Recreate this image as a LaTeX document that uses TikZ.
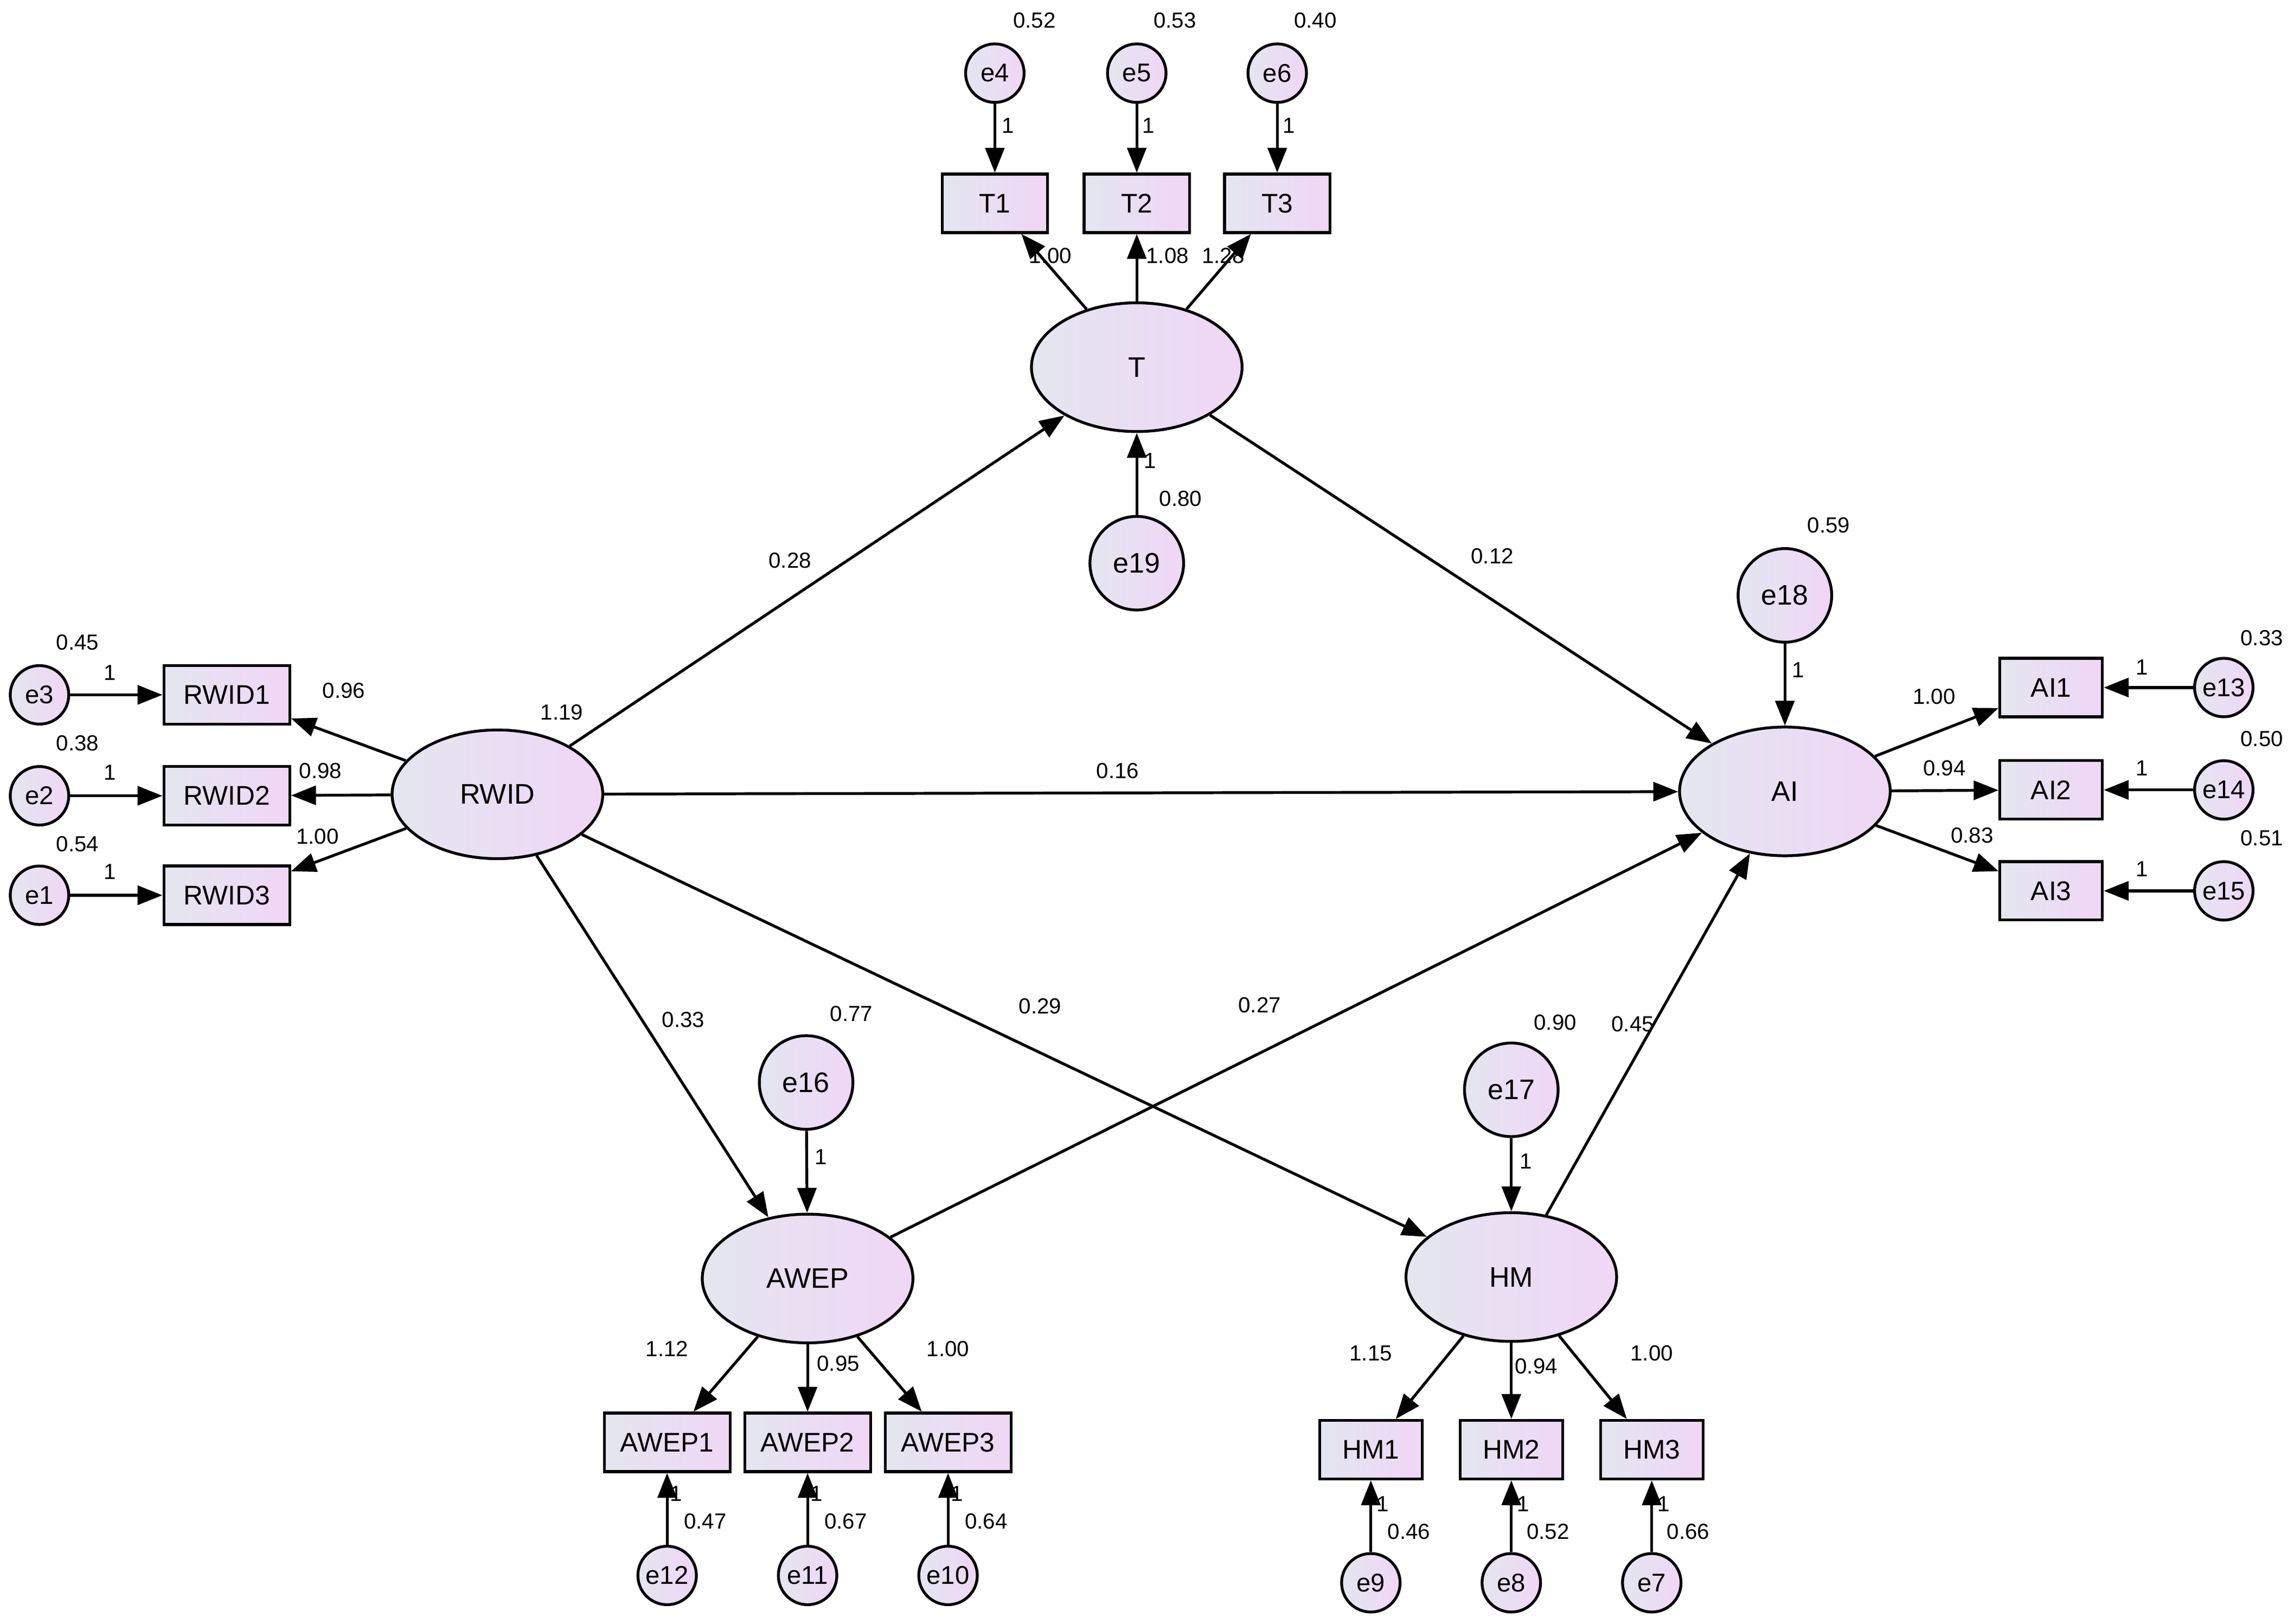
\documentclass[tikz,border=0pt]{standalone}
\usepackage{fontspec}
\setmainfont{Liberation Sans}
\usetikzlibrary{shapes.geometric,arrows.meta}
\definecolor{cA}{RGB}{228,230,240}
\definecolor{cB}{RGB}{240,214,246}
\begin{document}
\begin{tikzpicture}[x=0.02cm,y=-0.02cm,
 fillg/.style={left color=cA,right color=cB,draw=black,line width=1.1pt},
 lat/.style={ellipse,fillg,minimum width=2.88cm,minimum height=1.76cm,font=\fontsize{11}{13}\selectfont},
 se/.style={circle,fillg,minimum size=0.8cm,inner sep=0pt,font=\fontsize{10}{12}\selectfont},
 be/.style={circle,fillg,minimum size=1.28cm,inner sep=0pt,font=\fontsize{11}{13}\selectfont},
 obs/.style={rectangle,fillg,minimum width=1.44cm,minimum height=0.8cm,inner sep=1pt,font=\fontsize{10.5}{12}\selectfont},
 lab/.style={font=\fontsize{8.5}{10}\selectfont,inner sep=1pt},
 ar/.style={-{Triangle[length=0.34cm,width=0.26cm]},line width=1.1pt}]
\useasboundingbox (0,0) rectangle (1568,1110);
% latents
\node[lat] (T) at (777,251) {T};
\node[lat] (RWID) at (340,543) {RWID};
\node[lat] (AI) at (1220,541) {AI};
\node[lat] (AWEP) at (552,874) {AWEP};
\node[lat] (HM) at (1033,873) {HM};
% big errors
\node[be] (e19) at (777,385) {e19};
\node[be] (e18) at (1220,407) {e18};
\node[be] (e16) at (551,740) {e16};
\node[be] (e17) at (1033,745) {e17};
% observed
\node[obs] (T1) at (680,139) {T1};
\node[obs] (T2) at (777,139) {T2};
\node[obs] (T3) at (873,139) {T3};
\node[obs,minimum width=1.72cm] (RWID1) at (155,475) {RWID1};
\node[obs,minimum width=1.72cm] (RWID2) at (155,544) {RWID2};
\node[obs,minimum width=1.72cm] (RWID3) at (155,612) {RWID3};
\node[obs,minimum width=1.4cm] (AI1) at (1402,470) {AI1};
\node[obs,minimum width=1.4cm] (AI2) at (1402,540) {AI2};
\node[obs,minimum width=1.4cm] (AI3) at (1402,609) {AI3};
\node[obs,minimum width=1.72cm] (AWEP1) at (456,986) {AWEP1};
\node[obs,minimum width=1.72cm] (AWEP2) at (552,986) {AWEP2};
\node[obs,minimum width=1.72cm] (AWEP3) at (648,986) {AWEP3};
\node[obs,minimum width=1.4cm] (HM1) at (937,991) {HM1};
\node[obs,minimum width=1.4cm] (HM2) at (1033,991) {HM2};
\node[obs,minimum width=1.4cm] (HM3) at (1129,991) {HM3};
% small errors
\node[se] (e4) at (680,50) {e4};
\node[se] (e5) at (777,50) {e5};
\node[se] (e6) at (873,50) {e6};
\node[se] (e3) at (27,475) {e3};
\node[se] (e2) at (27,544) {e2};
\node[se] (e1) at (27,612) {e1};
\node[se] (e13) at (1520,470) {e13};
\node[se] (e14) at (1520,540) {e14};
\node[se] (e15) at (1520,609) {e15};
\node[se] (e12) at (456,1077) {e12};
\node[se] (e11) at (552,1077) {e11};
\node[se] (e10) at (648,1077) {e10};
\node[se] (e9) at (937,1082) {e9};
\node[se] (e8) at (1033,1082) {e8};
\node[se] (e7) at (1129,1082) {e7};
% arrows
\foreach \a/\b in {e4/T1,e5/T2,e6/T3,e19/T,e18/AI,e16/AWEP,e17/HM,e3/RWID1,e2/RWID2,e1/RWID3,e13/AI1,e14/AI2,e15/AI3,e12/AWEP1,e11/AWEP2,e10/AWEP3,e9/HM1,e8/HM2,e7/HM3,
 T/T1,T/T2,T/T3,RWID/RWID1,RWID/RWID2,RWID/RWID3,AI/AI1,AI/AI2,AI/AI3,AWEP/AWEP1,AWEP/AWEP2,AWEP/AWEP3,HM/HM1,HM/HM2,HM/HM3,
 RWID/T,T/AI,RWID/AI,RWID/AWEP,RWID/HM,AWEP/AI,HM/AI}
 \draw[ar] (\a) -- (\b);
% labels
\foreach \p/\t in {{707,14}/0.52,{803,14}/0.53,{899,14}/0.40,{807,341}/0.80,{1250,359}/0.59,{1546,436}/0.33,{1546,505}/0.50,{1546,573}/0.51,{53,439}/0.45,{53,508}/0.38,{53,577}/0.54,{384,487}/1.19,{582,693}/0.77,{1063,699}/0.90,{482,1040}/0.47,{578,1040}/0.67,{674,1040}/0.64,{963,1047}/0.46,{1058,1047}/0.52,{1154,1047}/0.66,
 {718,175}/1.00,{798,175}/1.08,{836,175}/1.28,{235,472}/0.96,{219,527}/0.98,{217,572}/1.00,{1322,476}/1.00,{1329,525}/0.94,{1348,571}/0.83,{456,922}/1.12,{573,932}/0.95,{648,922}/1.00,{937,925}/1.15,{1050,934}/0.94,{1129,925}/1.00,
 {540,383}/0.28,{1020,380}/0.12,{764,527}/0.16,{467,697}/0.33,{711,688}/0.29,{861,687}/0.27,{1116,700}/0.45,
 {689,86}/1,{785,86}/1,{881,86}/1,{786,315}/1,{1229,458}/1,{561,791}/1,{1043,794}/1,{75,460}/1,{75,528}/1,{75,596}/1,{1464,456}/1,{1464,525}/1,{1464,594}/1,{462,1021}/1,{558,1021}/1,{654,1021}/1,{945,1028}/1,{1041,1028}/1,{1137,1028}/1}
 \node[lab] at (\p) {\t};
\end{tikzpicture}
\end{document}
